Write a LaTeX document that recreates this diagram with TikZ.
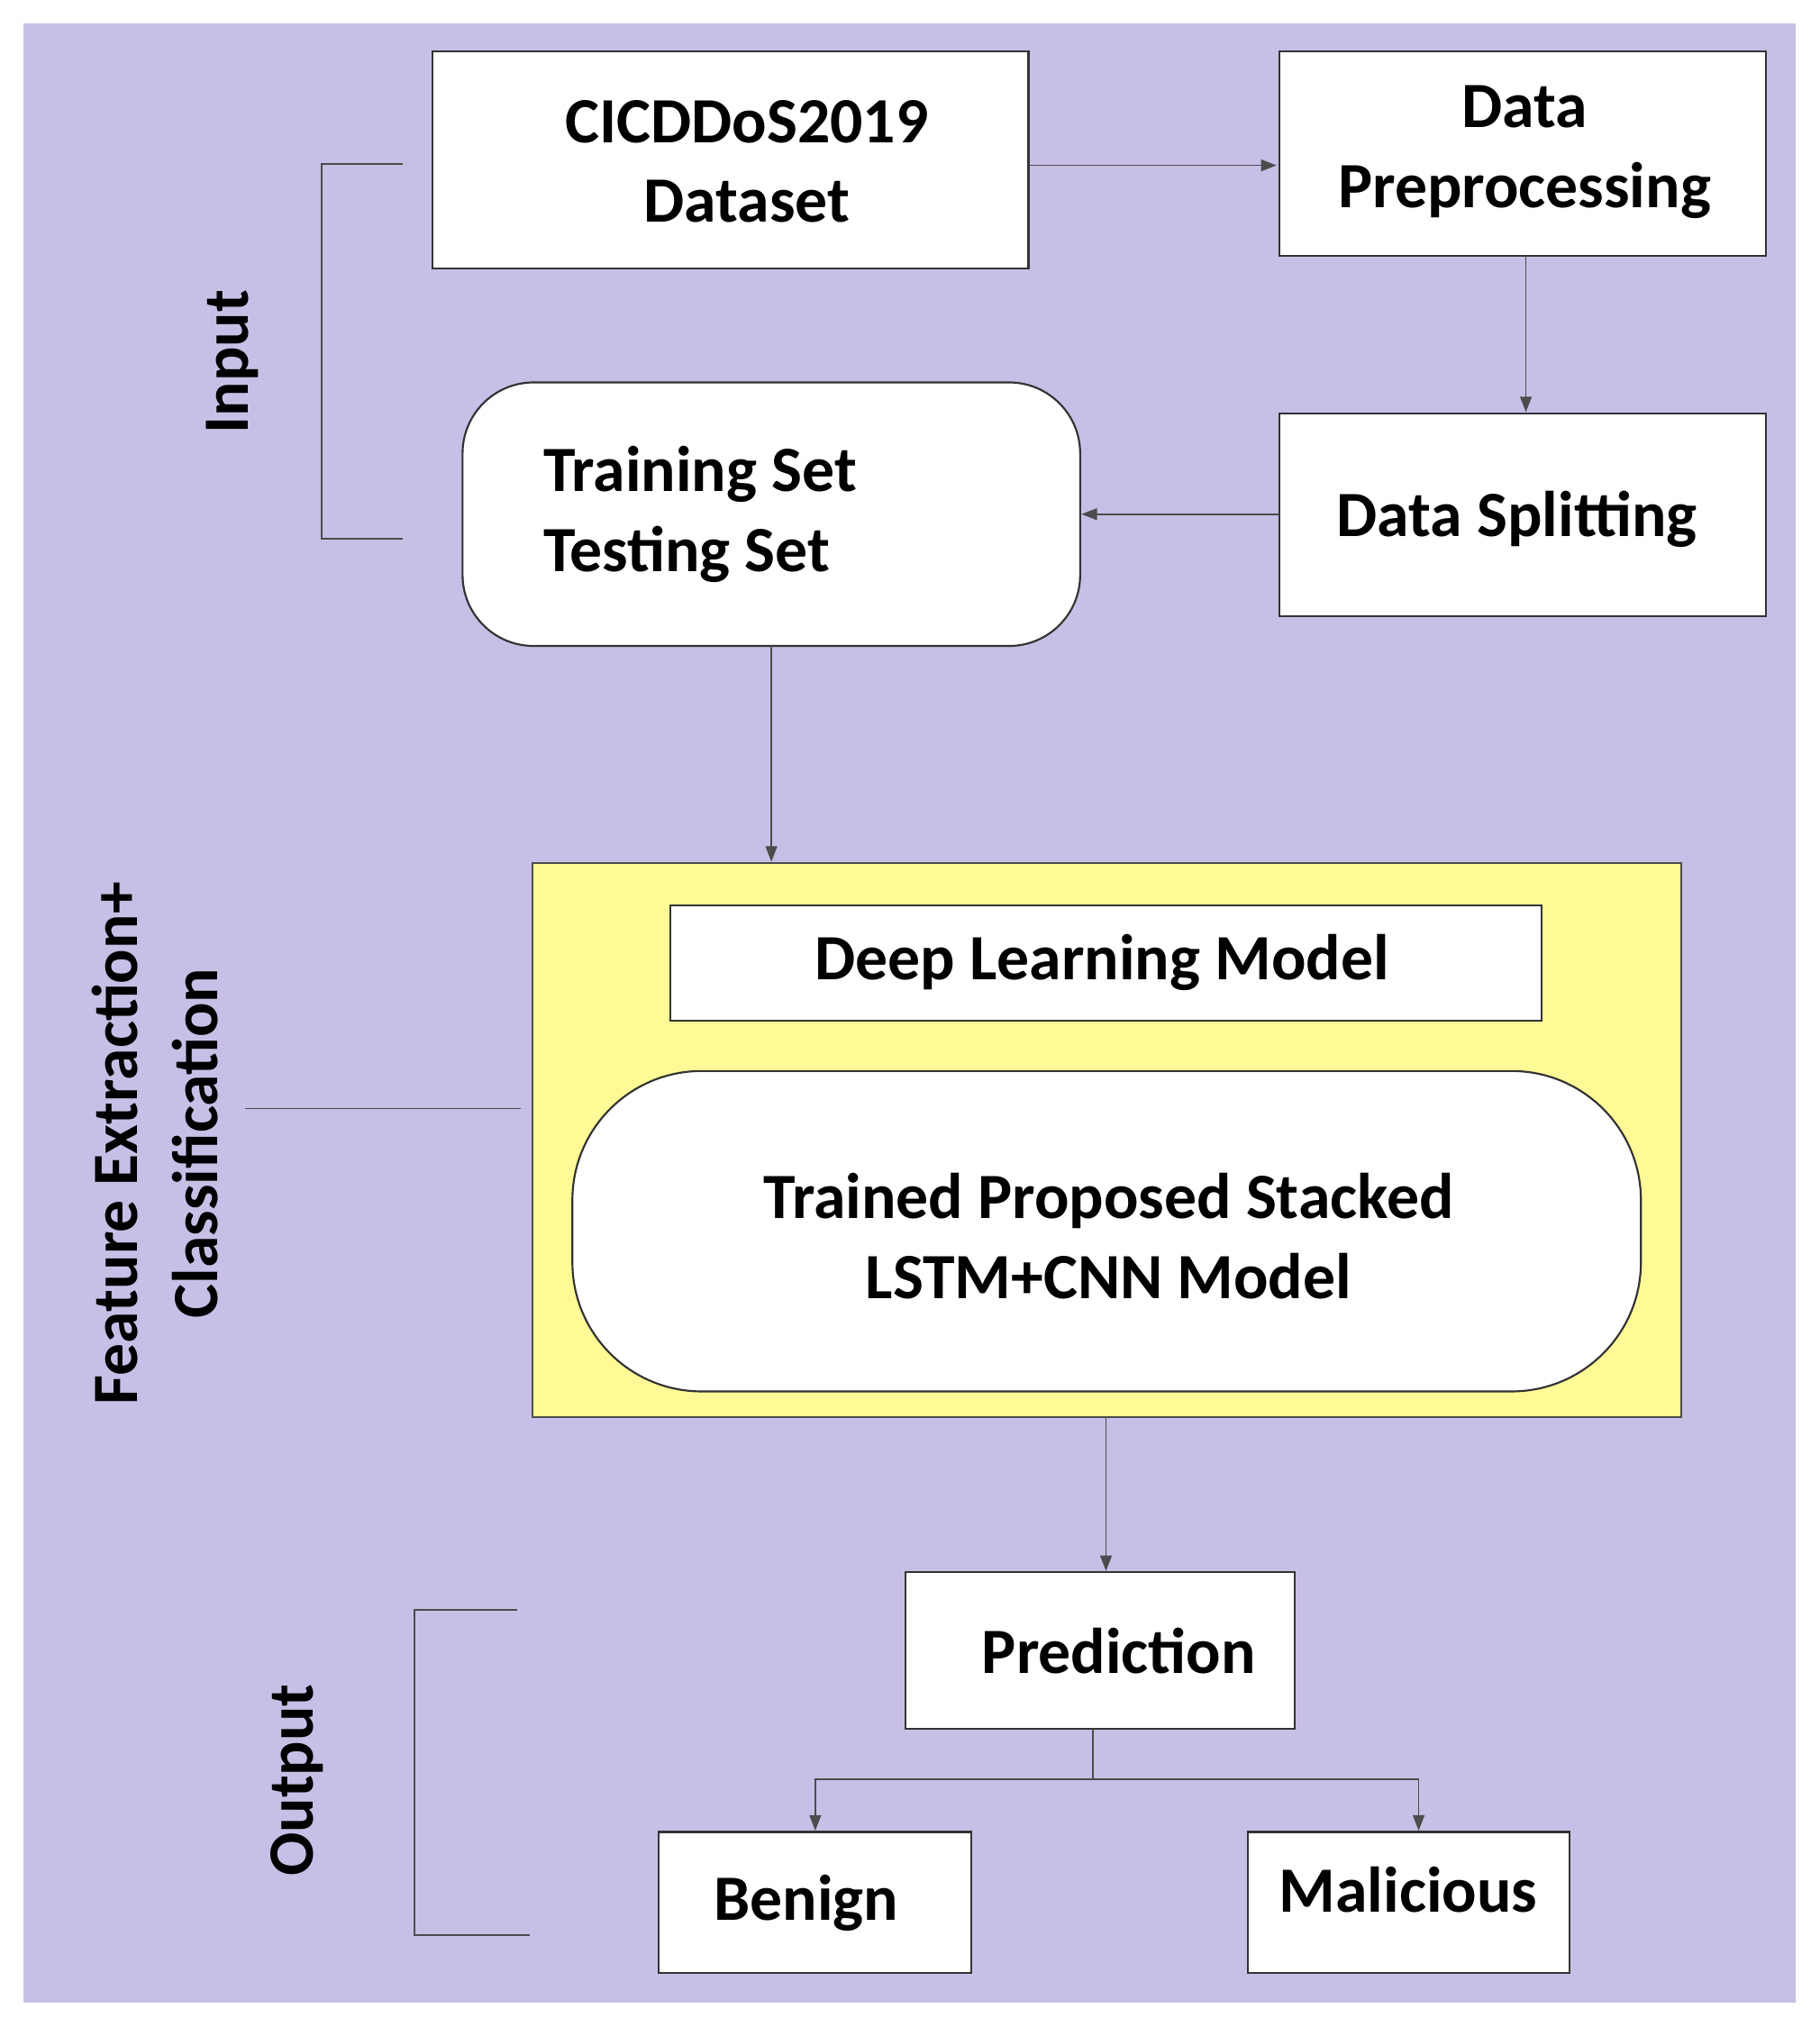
\documentclass[tikz,border=0pt]{standalone}
\usepackage{fontspec}
\setmainfont{Carlito}
\usetikzlibrary{arrows.meta}
\begin{document}
\begin{tikzpicture}[x=1pt,y=-1pt,
  box/.style={draw=black!80,line width=1.5pt,fill=white},
  ln/.style={draw=black!70,line width=1.2pt},
  ar/.style={ln,-{Triangle[length=12pt,width=9pt]}},
  txt/.style={font=\fontsize{50}{62}\selectfont\bfseries,align=center}]
\useasboundingbox (0,0) rectangle (1408,1569);
\fill[white] (0,0) rectangle (1408,1569);
\fill[fill={rgb,255:red,200;green,191;blue,231}] (18,18) rectangle (1390,1550);
% boxes
\draw[box] (335,40) rectangle (796,208);
\node[txt] (ds) at (578,125) {CICDDoS2019\\Dataset};
\draw[box] (990,40) rectangle (1367,198);
\node[txt] (pp) at (1180,118) {Data\\Preprocessing};
\draw[box] (990,320) rectangle (1367,477);
\node[txt] (sp) at (1174,402) {Data Splitting};
\draw[box,rounded corners=55pt] (358,296) rectangle (836,500);
\node[txt,align=left,anchor=west] (tr) at (417,398) {Training Set\\Testing Set};
\draw[ln,fill={rgb,255:red,255;green,250;blue,150}] (412,668) rectangle (1301,1097);
\draw[box] (519,701) rectangle (1193,790);
\node[txt] (dl) at (853,745) {Deep Learning Model};
\draw[box,rounded corners=100pt] (443,829) rectangle (1270,1077);
\node[txt] (tm) at (858,957) {Trained Proposed Stacked\\LSTM+CNN Model};
\draw[box] (701,1217) rectangle (1002,1338);
\node[txt] (pr) at (866,1278) {Prediction};
\draw[box] (510,1418) rectangle (752,1527);
\node[txt] (bn) at (624,1473) {Benign};
\draw[box] (966,1418) rectangle (1215,1527);
\node[txt] (ml) at (1090,1463) {Malicious};
% arrows
\coordinate (a1) at (796,128); \coordinate (a2) at (988,128);
\draw[ar] (a1) -- (a2);
\coordinate (b1) at (1181,198); \coordinate (b2) at (1181,319);
\draw[ar] (b1) -- (b2);
\coordinate (c1) at (990,398); \coordinate (c2) at (837,398);
\draw[ar] (c1) -- (c2);
\coordinate (d1) at (597,500); \coordinate (d2) at (597,667);
\draw[ar] (d1) -- (d2);
\coordinate (e1) at (856,1097); \coordinate (e2) at (856,1216);
\draw[ar] (e1) -- (e2);
\coordinate (f1) at (846,1338); \coordinate (f2) at (846,1377);
\coordinate (g1) at (631,1417); \coordinate (g2) at (1098,1417);
\draw[ln] (f1) -- (f2);
\draw[ar] (f2) -| (g1);
\draw[ar] (f2) -| (g2);
% brackets and labels
\draw[ln] (312,127) -- (249,127) -- (249,417) -- (312,417);
\node[txt,rotate=90] (lin) at (180,280) {Input};
\draw[ln] (190,858) -- (403,858);
\node[txt,rotate=90] (lfe) at (120,885) {Feature Extraction+\\Classification};
\draw[ln] (400,1246) -- (321,1246) -- (321,1498) -- (410,1498);
\node[txt,rotate=90] (lout) at (230,1378) {Output};
\end{tikzpicture}
\end{document}
